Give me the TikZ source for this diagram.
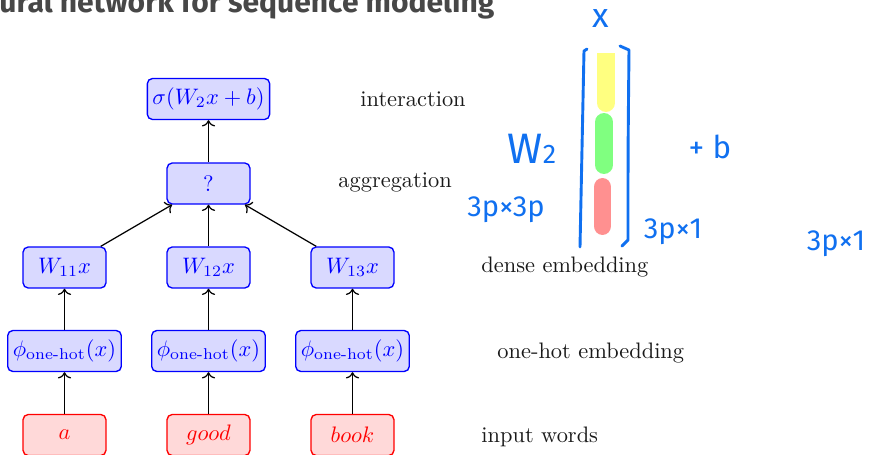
\documentclass[tikz,border=0pt]{standalone}
\usepackage{amsmath}
\usepackage{fontspec}
\newfontfamily\titlefont{Fira Sans}
\newfontfamily\handfont{Fira Sans}
\usetikzlibrary{arrows.meta}
\definecolor{ink}{RGB}{16,112,240}
\definecolor{barY}{RGB}{255,255,128}
\definecolor{barG}{RGB}{128,255,128}
\definecolor{barR}{RGB}{255,144,144}
\newcommand{\bodysize}{\fontsize{10}{12}\selectfont}
\tikzset{
  box/.style={draw, rounded corners=2.3pt, line width=0.6pt, minimum width=37pt,
    minimum height=18.3pt, inner sep=2.3pt, font=\bodysize},
  bluebox/.style={box, draw=blue, fill=blue!15, text=blue},
  redbox/.style={box, draw=red, fill=red!15, text=red},
  conn/.style={->, line width=0.55pt, black},
  lab/.style={anchor=base west, inner sep=0pt, font=\bodysize, text=black!90},
  hand/.style={text=ink, inner sep=0pt, font=\handfont},
  penline/.style={draw=ink, line width=1.3pt, line cap=round, line join=round}
}
\begin{document}
\begin{tikzpicture}[x=0.4464pt,y=-0.4464pt]
\useasboundingbox (0,0) rectangle (869,455);
\clip (0,0) rectangle (869,455);

% heading, partly outside the frame
\node[anchor=base west, inner sep=0pt, text=black!72,
      font=\titlefont\bfseries\fontsize{13.4}{16}\selectfont] (title) at (-1,12.5)
      {ural network for sequence modeling};

% network
\node[bluebox] (sig) at (208.5,99) {$\sigma(W_2x+b)$};
\node[bluebox] (agg) at (208.5,183.5) {$?$};
\node[bluebox] (d1) at (64.5,267.5) {$W_{11}x$};
\node[bluebox] (d2) at (208.5,267.5) {$W_{12}x$};
\node[bluebox] (d3) at (352.5,267.5) {$W_{13}x$};
\node[bluebox] (o1) at (64.5,351) {$\phi_{\text{one-hot}}(x)$};
\node[bluebox] (o2) at (208.5,351) {$\phi_{\text{one-hot}}(x)$};
\node[bluebox] (o3) at (352.5,351) {$\phi_{\text{one-hot}}(x)$};
\node[redbox] (w1) at (64.5,435) {$a$};
\node[redbox] (w2) at (208.5,435) {$good$};
\node[redbox] (w3) at (352.5,435) {$book$};

\draw[conn] (w1) -- (o1);
\draw[conn] (w2) -- (o2);
\draw[conn] (w3) -- (o3);
\draw[conn] (o1) -- (d1);
\draw[conn] (o2) -- (d2);
\draw[conn] (o3) -- (d3);
\draw[conn] (d1) -- (agg);
\draw[conn] (d2) -- (agg);
\draw[conn] (d3) -- (agg);
\draw[conn] (agg) -- (sig);

% layer names
\node[lab] (l1) at (360,107) {interaction};
\node[lab] (l2) at (338,188) {aggregation};
\node[lab] (l3) at (481,273) {dense embedding};
\node[lab] (l4) at (497,358) {one-hot embedding};
\node[lab] (l5) at (481,442) {input words};

% pen notes: the stacked vector
\fill[barY] (597,53) rectangle (615,80);
\draw[barY, line width=8pt, line cap=round] (606,70) -- (606,103);
\draw[barG, line width=8pt, line cap=round] (604,122) -- (604,165);
\draw[barR, line width=8pt, line cap=round] (602.5,187) -- (602.5,226);
\draw[penline] (587,49) -- (584,51) .. controls (582,150) .. (580,247);
\draw[penline] (620,46) -- (629,50) .. controls (628,150) .. (628,240) -- (622,246);

\node[hand, font=\handfont\fontsize{15.2}{16}\selectfont] (nx) at (601,19) {x};
\node[hand, font=\handfont\fontsize{19}{20}\selectfont, anchor=base] (nW) at (532,163)
  {W{\fontsize{12}{12}\selectfont 2}};
\node[hand, font=\handfont\fontsize{14}{15}\selectfont, anchor=base] (nb) at (710,159) {+ b};
\node[hand, font=\handfont\fontsize{13}{14}\selectfont, anchor=base] (n1) at (506,216) {3p×3p};
\node[hand, font=\handfont\fontsize{13}{14}\selectfont, anchor=base] (n2) at (673,238) {3p×1};
\node[hand, font=\handfont\fontsize{13}{14}\selectfont, anchor=base] (n3) at (836,251) {3p×1};
\end{tikzpicture}
\end{document}
